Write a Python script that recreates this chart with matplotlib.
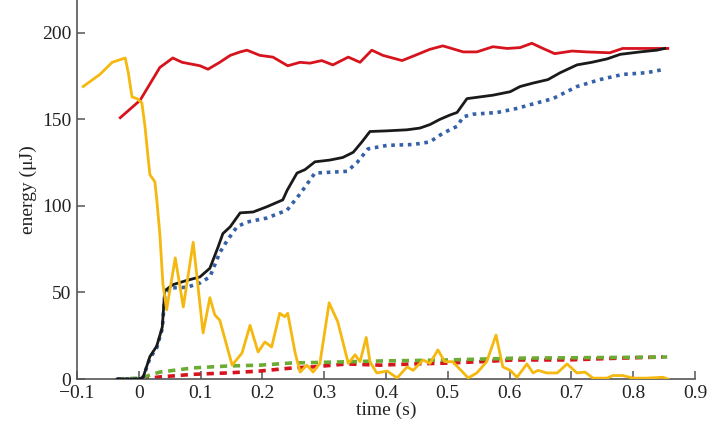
import matplotlib
matplotlib.use("Agg")
import matplotlib.pyplot as plt

# ---- data ----
red_t = [-0.030, 0.002, 0.034, 0.055, 0.070, 0.099, 0.112, 0.131, 0.148, 0.164, 0.175, 0.196, 0.217, 0.241,
         0.261, 0.277, 0.296, 0.314, 0.339, 0.358, 0.377, 0.395, 0.426, 0.447, 0.471, 0.492, 0.525, 0.547,
         0.573, 0.596, 0.617, 0.636, 0.654, 0.673, 0.701, 0.725, 0.762, 0.783, 0.816, 0.856]
red_e = [151, 161, 180, 185.5, 183, 181, 179, 183, 187, 189, 190, 187, 186, 181,
         183, 182.5, 184, 181.5, 186, 183, 190, 187, 184, 187, 190.5, 192.5, 189, 189,
         192, 191, 191.5, 194, 191, 188, 189.5, 189, 188.5, 191, 191, 191]

black_t = [-0.035, 0.000, 0.007, 0.018, 0.029, 0.038, 0.042, 0.055, 0.078, 0.099, 0.115, 0.128, 0.136, 0.148,
           0.164, 0.185, 0.207, 0.233, 0.240, 0.256, 0.269, 0.285, 0.309, 0.330, 0.347, 0.361, 0.374,
           0.402, 0.434, 0.455, 0.471, 0.487, 0.504, 0.515, 0.531, 0.552, 0.573, 0.601, 0.617, 0.638,
           0.662, 0.682, 0.709, 0.733, 0.758, 0.779, 0.811, 0.838, 0.851]
black_e = [0, 0, 1, 13, 19, 30, 51, 54.5, 57, 59, 64, 76, 84, 88,
           96, 96.5, 99.5, 103.5, 109, 119, 121, 125.5, 126.5, 128, 131, 137, 143,
           143.4, 144, 145, 147, 150, 152.6, 154, 162, 163, 164, 166, 169, 171,
           173, 177, 181.5, 183, 185, 187.6, 189, 190, 191]

blue_t = [-0.035, 0.000, 0.007, 0.018, 0.029, 0.038, 0.042, 0.050, 0.078, 0.099, 0.115, 0.131, 0.143, 0.159,
          0.175, 0.207, 0.240, 0.261, 0.285, 0.337, 0.353, 0.371, 0.402, 0.444, 0.471, 0.492, 0.515,
          0.525, 0.541, 0.580, 0.614, 0.628, 0.670, 0.709, 0.746, 0.783, 0.822, 0.851]
blue_e = [0, 0, 1, 12, 18, 29, 48, 52.6, 53, 55.5, 59, 73, 80, 88,
          90.7, 93, 97.6, 107, 119, 120, 125, 133, 135, 135.5, 137, 142, 146,
          151.5, 153, 154, 156.5, 158, 162, 169, 173, 176, 177, 179]

yellow_t = [-0.090, -0.063, -0.043, -0.022, -0.017, -0.011, -0.003, 0.005, 0.010, 0.015, 0.018, 0.026,
            0.029, 0.034, 0.039, 0.045, 0.059, 0.072, 0.088, 0.104, 0.115, 0.123, 0.131, 0.151, 0.167,
            0.180, 0.193, 0.204, 0.215, 0.228, 0.236, 0.241, 0.253, 0.261, 0.272, 0.282, 0.293, 0.308,
            0.322, 0.339, 0.350, 0.358, 0.368, 0.374, 0.385, 0.402, 0.418, 0.434, 0.444, 0.460, 0.471,
            0.484, 0.495, 0.508, 0.533, 0.547, 0.563, 0.578, 0.589, 0.601, 0.612, 0.628, 0.638, 0.646,
            0.660, 0.677, 0.693, 0.709, 0.722, 0.735, 0.758, 0.767, 0.783, 0.800, 0.822, 0.848, 0.856]
yellow_e = [169, 176, 183, 185.5, 177, 163, 162, 159.5, 146, 128, 118, 114,
            104, 84, 55, 40, 70, 41.6, 79, 26.6, 47, 37, 34, 8, 15,
            31, 15.6, 21.4, 18.5, 38, 36, 38, 15, 4, 8, 4, 9, 44,
            33, 9, 14, 10, 24, 10, 3.5, 4.6, 0.6, 7, 5, 11, 9,
            16.8, 10, 10, 0.6, 3.5, 10, 25.4, 7, 5, 1, 8.7, 3.5, 5,
            3.5, 3.5, 8.7, 3.5, 4, 0.5, 0.5, 2, 2, 0.5, 0.5, 1, 0]

green_t = [-0.035, 0.002, 0.034, 0.088, 0.143, 0.196, 0.249, 0.282, 0.390, 0.499, 0.606, 0.855]
green_e = [0, 0.5, 4, 6.4, 7.5, 8, 9.3, 9.5, 10.4, 11, 12, 12.7]

reddash_t = [0.005, 0.034, 0.088, 0.143, 0.196, 0.249, 0.282, 0.337, 0.390, 0.444, 0.499, 0.552,
             0.606, 0.693, 0.774, 0.848]
reddash_e = [0, 1.2, 2.7, 3.5, 4.6, 6.4, 7, 8.7, 8, 8.7, 9.2, 10, 11, 11, 12, 12.7]

x_ticks = [-0.1, 0, 0.1, 0.2, 0.3, 0.4, 0.5, 0.6, 0.7, 0.8, 0.9]
x_labels = ["\u22120.1", "0", "0.1", "0.2", "0.3", "0.4", "0.5", "0.6", "0.7", "0.8", "0.9"]
y_ticks = [0, 50, 100, 150, 200]

# ---- figure ----
plt.rcParams['font.family'] = ['Liberation Serif', 'DejaVu Serif']
fig = plt.figure(figsize=(7.10, 4.22), dpi=100)
ax = fig.add_axes([77 / 710, 43 / 422, 618 / 710, 379 / 422])

ax.plot(reddash_t, reddash_e, color='#d7141e', lw=2.6, ls=(0, (2.0, 1.6)), zorder=2)
ax.plot(green_t, green_e, color='#6cab34', lw=2.6, ls=(0, (2.0, 1.6)), zorder=3)
ax.plot(red_t, red_e, color='#d7141e', lw=2.0, zorder=4)
ax.plot(blue_t, blue_e, color='#3561a8', lw=2.6, ls=(0, (1.0, 1.3)), zorder=4)
ax.plot(black_t, black_e, color='#1a1a1a', lw=2.0, zorder=5)
ax.plot(yellow_t, yellow_e, color='#f5b80f', lw=2.0, zorder=6)

ax.set_xlim(-0.1, 0.9)
ax.set_ylim(0, 219)
ax.set_xticks(x_ticks)
ax.set_xticklabels(x_labels)
ax.set_yticks(y_ticks)

for s in ['top', 'right']:
    ax.spines[s].set_visible(False)
for s in ['left', 'bottom']:
    ax.spines[s].set_color('#555555')
    ax.spines[s].set_linewidth(1.2)
ax.tick_params(direction='in', length=6, width=1.1, color='#555555', labelsize=14,
               labelcolor='#222222', pad=4)

ax.set_xlabel('time (s)', fontsize=14, color='#222222', labelpad=0)
ax.set_ylabel('energy (\u03bcJ)', fontsize=14, color='#222222', labelpad=4)

fig.savefig('out.png', dpi=100)
